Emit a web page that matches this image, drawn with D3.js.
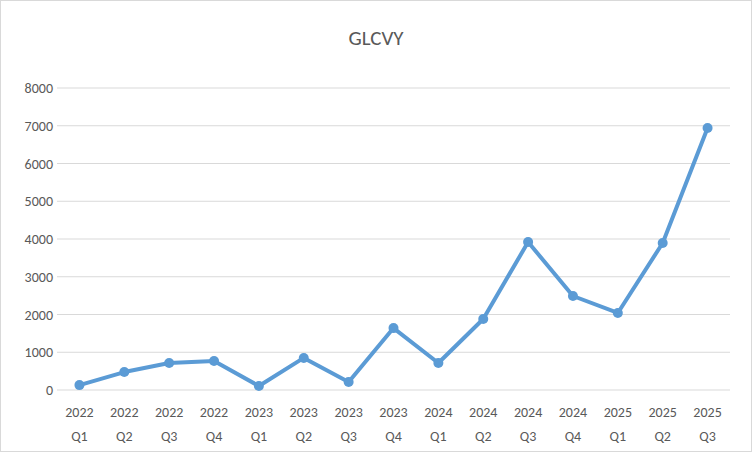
<!DOCTYPE html>
<html><head><meta charset="utf-8">
<script src="https://cdn.jsdelivr.net/npm/d3@7"></script>
<style>body{margin:0;background:#fff}svg{font-family:Calibri,Carlito,"Liberation Sans",Arial,sans-serif}</style>
</head><body><svg id="c" width="752" height="452"></svg>
<script>
const years = ["2022","2022","2022","2022","2023","2023","2023","2023","2024","2024","2024","2024","2025","2025","2025"];
const quarters = ["Q1","Q2","Q3","Q4","Q1","Q2","Q3","Q4","Q1","Q2","Q3","Q4","Q1","Q2","Q3"];
const values = [130,475,715,770,105,850,210,1640,715,1880,3920,2490,2040,3895,6940];
const yTicks = [0,1000,2000,3000,4000,5000,6000,7000,8000];

const svg = d3.select("#c");
svg.append("rect").attr("x",0.5).attr("y",0.5).attr("width",751).attr("height",451).attr("fill","#fff").attr("stroke","#d9d9d9");
const idx = d3.range(values.length);
const x = d3.scaleBand().domain(idx).range([57,730]);
const y = d3.scaleLinear().domain([0,8000]).range([390,88]);

svg.append("g").selectAll("line").data(yTicks).join("line")
 .attr("x1",57).attr("x2",730).attr("y1",d=>y(d)).attr("y2",d=>y(d))
 .attr("stroke","#d9d9d9").attr("stroke-width",1);
svg.append("g").selectAll("text").data(yTicks).join("text")
 .attr("x",53).attr("y",d=>y(d)+5).attr("text-anchor","end")
 .attr("font-size",14).attr("fill","#595959").text(d=>d);
const xl = svg.append("g").selectAll("text").data(idx).join("text")
 .attr("text-anchor","middle").attr("font-size",14).attr("fill","#595959");
xl.append("tspan").attr("x",i=>x(i)+x.bandwidth()/2).attr("y",417).text(i=>years[i]);
xl.append("tspan").attr("x",i=>x(i)+x.bandwidth()/2).attr("y",441).text(i=>quarters[i]);

const line = d3.line().x(i=>x(i)+x.bandwidth()/2).y(i=>y(values[i]));
svg.append("path").datum(idx).attr("d",line).attr("fill","none")
 .attr("stroke","#5b9bd5").attr("stroke-width",4).attr("stroke-linejoin","round");
svg.append("g").selectAll("circle").data(idx).join("circle")
 .attr("cx",i=>x(i)+x.bandwidth()/2).attr("cy",i=>y(values[i])).attr("r",5)
 .attr("fill","#5b9bd5");
svg.append("text").attr("x",376).attr("y",45).attr("text-anchor","middle")
 .attr("font-size",21).attr("fill","#595959").text("GLCVY");
</script></body></html>
